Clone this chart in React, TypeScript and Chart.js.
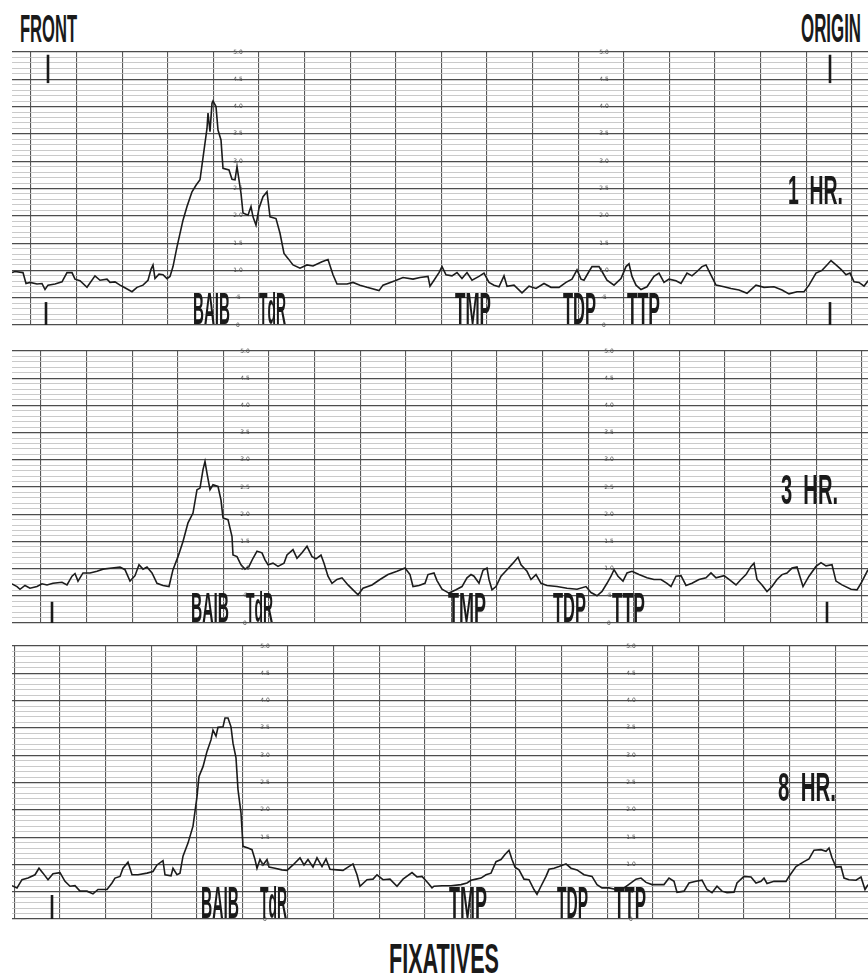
import React, { useEffect, useRef } from 'react';
import { Chart, registerables } from 'chart.js';

Chart.register(...registerables);

const FAMILY = '"Liberation Sans Narrow", "Liberation Sans", Arial, sans-serif';
const CAP = 0.716;
const GRID_STEP = 45.6;
const X_MIN = 0;
const X_MAX = 856;
const PAD = 4;

// ---------- 1 HR ----------
const X_1HR = [0, 3, 11, 14, 18, 25, 30, 33, 36, 43, 50, 55, 60, 63, 68, 75, 83, 88, 95, 98, 103, 108, 112, 120, 125, 131, 136, 139, 141, 143, 147, 151, 155, 158, 161, 165, 171, 175, 180, 184, 188, 192, 195, 196, 198, 200, 201, 204, 206, 209, 211, 217, 220, 223, 225, 227, 229, 231, 236, 239, 241, 244, 247, 251, 255, 258, 264, 268, 272, 276, 281, 288, 295, 301, 310, 316, 321, 325, 335, 341, 348, 355, 367, 371, 383, 391, 401, 408, 416, 418, 422, 427, 430, 434, 440, 445, 450, 455, 460, 467, 472, 477, 482, 487, 492, 495, 502, 510, 517, 524, 532, 539, 547, 554, 560, 565, 569, 572, 577, 580, 587, 590, 595, 602, 609, 614, 617, 620, 624, 629, 635, 642, 647, 652, 657, 664, 669, 675, 680, 685, 690, 694, 698, 704, 712, 719, 727, 735, 744, 752, 762, 770, 777, 785, 792, 797, 804, 810, 815, 819, 824, 829, 834, 838, 842, 847, 852, 856];
const Y_1HR = [0.96, 0.98, 0.96, 0.76, 0.78, 0.75, 0.76, 0.65, 0.73, 0.75, 0.79, 0.96, 0.96, 0.84, 0.81, 0.69, 0.90, 0.82, 0.84, 0.78, 0.79, 0.73, 0.69, 0.61, 0.69, 0.73, 0.82, 1.02, 1.10, 0.85, 0.93, 0.92, 0.85, 0.89, 1.07, 1.43, 1.92, 2.17, 2.44, 2.56, 2.66, 3.20, 3.60, 3.88, 3.54, 4.06, 4.10, 4.00, 3.57, 3.39, 2.87, 2.84, 2.67, 2.66, 2.90, 2.66, 2.41, 2.05, 2.01, 2.17, 1.98, 1.83, 2.14, 2.35, 2.44, 1.98, 1.95, 1.68, 1.31, 1.22, 1.10, 1.04, 1.10, 1.08, 1.16, 1.20, 0.92, 0.75, 0.75, 0.78, 0.73, 0.69, 0.63, 0.73, 0.81, 0.87, 0.84, 0.87, 0.89, 0.71, 0.82, 0.96, 1.07, 0.92, 0.90, 0.96, 0.85, 0.96, 0.82, 0.89, 0.95, 0.78, 0.73, 0.70, 0.90, 0.71, 0.73, 0.59, 0.71, 0.67, 0.76, 0.69, 0.69, 0.78, 0.84, 1.01, 0.84, 0.82, 0.98, 1.07, 1.07, 0.98, 0.82, 0.73, 0.85, 1.07, 1.12, 0.89, 0.73, 0.65, 0.70, 0.89, 0.95, 0.78, 0.84, 0.81, 0.76, 0.95, 0.90, 0.98, 1.07, 1.10, 0.95, 0.73, 0.70, 0.67, 0.64, 0.58, 0.73, 0.69, 0.70, 0.64, 0.57, 0.61, 0.61, 0.73, 0.95, 1.00, 1.10, 1.18, 1.10, 1.02, 0.92, 0.95, 0.79, 0.78, 0.71, 0.81];

// ---------- 3 HR ----------
const X_3HR = [0, 5, 8, 13, 18, 25, 30, 35, 41, 50, 55, 60, 63, 66, 71, 78, 85, 91, 100, 108, 113, 118, 123, 127, 131, 135, 140, 145, 151, 157, 161, 166, 171, 176, 181, 185, 188, 191, 193, 195, 198, 201, 206, 209, 211, 216, 220, 221, 225, 229, 233, 237, 241, 245, 250, 253, 256, 261, 266, 272, 275, 281, 285, 290, 295, 300, 304, 309, 312, 316, 320, 325, 330, 336, 341, 346, 351, 360, 368, 376, 385, 393, 398, 401, 407, 413, 416, 422, 425, 430, 437, 444, 450, 455, 459, 462, 467, 471, 475, 477, 480, 484, 489, 495, 501, 506, 509, 515, 519, 524, 529, 535, 545, 555, 565, 574, 579, 585, 590, 595, 599, 602, 606, 611, 615, 620, 627, 635, 642, 649, 655, 659, 664, 669, 674, 680, 687, 694, 699, 704, 712, 717, 724, 729, 734, 739, 742, 745, 750, 755, 760, 765, 770, 775, 780, 785, 791, 797, 804, 809, 814, 820, 824, 830, 839, 845, 849, 856];
const Y_3HR = [0.72, 0.67, 0.62, 0.69, 0.64, 0.67, 0.72, 0.70, 0.73, 0.75, 0.70, 0.86, 0.91, 0.77, 0.92, 0.92, 0.95, 0.99, 1.01, 1.03, 0.98, 0.77, 0.87, 1.07, 0.99, 1.03, 0.92, 0.73, 0.69, 0.67, 0.98, 1.22, 1.50, 1.84, 2.02, 2.45, 2.48, 2.82, 2.97, 2.75, 2.45, 2.54, 2.51, 2.26, 1.93, 1.90, 1.59, 1.25, 1.22, 1.07, 0.99, 1.04, 1.19, 1.32, 1.29, 1.16, 1.07, 1.10, 1.04, 1.10, 1.25, 1.35, 1.19, 1.29, 1.41, 1.22, 1.18, 1.25, 1.10, 0.86, 0.73, 0.80, 0.83, 0.70, 0.61, 0.52, 0.64, 0.70, 0.80, 0.89, 0.95, 1.01, 0.89, 0.67, 0.69, 0.73, 0.89, 0.92, 0.78, 0.62, 0.55, 0.61, 0.67, 0.83, 0.89, 0.86, 0.73, 0.97, 1.01, 0.80, 0.61, 0.67, 0.86, 0.98, 1.10, 1.21, 1.07, 0.95, 0.80, 0.89, 0.73, 0.69, 0.67, 0.64, 0.62, 0.67, 0.56, 0.50, 0.58, 0.73, 0.86, 0.98, 0.86, 0.77, 0.92, 0.95, 0.89, 0.83, 0.80, 0.80, 0.73, 0.67, 0.86, 0.87, 0.69, 0.73, 0.80, 0.83, 0.92, 0.83, 0.87, 0.80, 0.70, 0.80, 0.89, 1.04, 1.10, 0.80, 0.70, 0.58, 0.67, 0.80, 0.89, 0.92, 1.01, 1.03, 0.67, 0.86, 1.04, 1.11, 1.05, 1.07, 0.77, 0.70, 0.62, 0.61, 0.73, 0.98];

// ---------- 8 HR ----------
const X_8HR = [0, 5, 10, 16, 23, 27, 31, 36, 41, 48, 53, 58, 63, 68, 75, 81, 86, 95, 100, 103, 108, 111, 116, 120, 126, 135, 141, 145, 151, 153, 159, 161, 165, 168, 171, 176, 181, 185, 187, 191, 195, 199, 201, 204, 206, 211, 213, 216, 219, 221, 224, 226, 229, 231, 236, 240, 243, 245, 248, 251, 255, 257, 263, 270, 275, 281, 288, 292, 296, 301, 305, 310, 314, 318, 325, 331, 336, 341, 345, 348, 355, 361, 365, 371, 378, 385, 391, 400, 405, 410, 416, 420, 422, 430, 439, 449, 455, 459, 464, 469, 474, 479, 484, 489, 493, 497, 500, 503, 507, 512, 517, 522, 525, 529, 534, 537, 542, 547, 554, 559, 565, 572, 580, 585, 590, 597, 604, 612, 619, 624, 629, 634, 640, 645, 652, 657, 662, 665, 672, 677, 684, 690, 695, 700, 705, 710, 715, 722, 725, 732, 739, 744, 749, 752, 755, 762, 774, 777, 784, 792, 797, 802, 809, 814, 817, 820, 824, 829, 832, 837, 844, 849, 853, 856];
const Y_8HR = [0.61, 0.57, 0.72, 0.75, 0.81, 0.93, 0.84, 0.72, 0.83, 0.85, 0.69, 0.60, 0.61, 0.51, 0.51, 0.46, 0.54, 0.54, 0.66, 0.75, 0.78, 0.93, 1.04, 0.81, 0.81, 0.84, 0.87, 0.99, 1.07, 0.81, 0.79, 0.93, 0.81, 0.84, 1.15, 1.39, 1.70, 2.24, 2.61, 2.79, 3.07, 3.28, 3.46, 3.35, 3.51, 3.52, 3.68, 3.68, 3.52, 3.22, 2.95, 2.37, 1.94, 1.33, 1.30, 1.27, 1.09, 0.93, 1.09, 0.99, 1.09, 0.95, 0.93, 0.90, 0.89, 0.99, 1.12, 0.99, 1.09, 0.95, 1.12, 0.96, 1.10, 0.91, 0.90, 0.89, 0.95, 1.01, 0.81, 0.60, 0.72, 0.73, 0.81, 0.72, 0.73, 0.60, 0.73, 0.85, 0.77, 0.78, 0.66, 0.57, 0.60, 0.61, 0.61, 0.63, 0.66, 0.71, 0.73, 0.75, 0.81, 0.84, 1.05, 1.09, 1.18, 1.26, 1.09, 0.95, 0.90, 0.73, 0.72, 0.54, 0.45, 0.60, 0.78, 0.91, 0.93, 0.96, 1.01, 0.93, 0.90, 0.81, 0.78, 0.63, 0.57, 0.57, 0.54, 0.57, 0.66, 0.73, 0.75, 0.67, 0.63, 0.63, 0.63, 0.75, 0.69, 0.49, 0.51, 0.66, 0.69, 0.71, 0.54, 0.48, 0.60, 0.51, 0.48, 0.49, 0.66, 0.78, 0.77, 0.66, 0.69, 0.75, 0.65, 0.69, 0.69, 0.78, 0.96, 1.05, 1.10, 1.26, 1.27, 1.24, 1.30, 1.12, 0.95, 0.96, 0.75, 0.72, 0.71, 0.77, 0.54, 0.63];

// ---------- annotations (in data units) ----------
const PEAK_NAMES = ['BAIB', 'TdR', 'TMP', 'TDP', 'TTP'];
const PEAK_X_1HR = [181, 247, 443, 551, 615];
const PEAK_W_1HR = [37, 27, 36, 33, 33];
const PEAK_X_3HR = [179, 234, 436, 541, 600];
const PEAK_W_3HR = [38, 27, 38, 33, 33];
const PEAK_X_8HR = [189, 248, 437, 545, 602];
const PEAK_W_8HR = [38, 27, 38, 31, 32];
const PEAK_Y = [0.01, 0.58];

const SCALE_VALUES = [0, 0.5, 1, 1.5, 2, 2.5, 3, 3.5, 4, 4.5, 5];
const SCALE_COLS_1HR = [226, 592];
const SCALE_COLS_3HR = [233, 597];
const SCALE_COLS_8HR = [253, 619];

const GRID_OFFSET_1HR = 19;
const GRID_OFFSET_3HR = 29;
const GRID_OFFSET_8HR = 2.4;

const HR_X_1HR = [776, 831];
const HR_Y_1HR = [2.22, 2.75];
const HR_X_3HR = [769, 826];
const HR_Y_3HR = [2.19, 2.76];
const HR_X_8HR = [766, 824];
const HR_Y_8HR = [2.16, 2.69];

const MARKS_1HR = [[36, 4.43, 4.95], [34, 0, 0.42], [818, 4.43, 4.95], [818, 0, 0.42]];
const MARKS_3HR = [[40, 0, 0.39], [815, 0, 0.39]];
const MARKS_8HR = [[40, 0, 0.44]];

let measureCtx: CanvasRenderingContext2D | null = null;
function measure(text: string, font: string): number {
  if (!measureCtx) measureCtx = document.createElement('canvas').getContext('2d');
  measureCtx!.font = font;
  return measureCtx!.measureText(text).width;
}

function drawCondensed(ctx: CanvasRenderingContext2D, text: string, left: number, baseline: number, capH: number, width: number) {
  const fs = capH / CAP;
  ctx.save();
  ctx.font = `bold ${fs}px ${FAMILY}`;
  const w = ctx.measureText(text).width;
  ctx.translate(left, baseline);
  ctx.scale(width / w, 1);
  ctx.fillStyle = '#1a1a1a';
  ctx.textBaseline = 'alphabetic';
  ctx.textAlign = 'left';
  ctx.fillText(text, 0, 0);
  ctx.restore();
}

type PanelProps = {
  top: number;
  height: number;
  xs: number[];
  ys: number[];
  gridOffset: number;
  scaleCols: number[];
  peakX: number[];
  peakW: number[];
  hrText: string;
  hrX: number[];
  hrY: number[];
  marks: number[][];
};

function Panel(p: PanelProps) {
  const ref = useRef<HTMLCanvasElement>(null);
  useEffect(() => {
    const canvas = ref.current!;
    const data = p.xs.map((x, i) => ({ x, y: p.ys[i] }));
    const annot = {
      id: 'annot',
      afterDatasetsDraw(chart: any) {
        const ctx: CanvasRenderingContext2D = chart.ctx;
        const xs = chart.scales.x;
        const ys = chart.scales.y;
        // scale numbers
        ctx.save();
        ctx.font = '6px "DejaVu Sans", sans-serif';
        ctx.fillStyle = '#4a4a4a';
        ctx.textAlign = 'center';
        ctx.textBaseline = 'middle';
        for (const c of p.scaleCols) {
          const px = xs.getPixelForValue(c);
          for (const v of SCALE_VALUES) {
            const lbl = v === 0 ? '0' : v === 0.5 ? '\u00b75' : v.toFixed(1);
            ctx.fillText(lbl, px, ys.getPixelForValue(v));
          }
        }
        ctx.restore();
        // marks
        ctx.save();
        ctx.strokeStyle = '#1a1a1a';
        ctx.lineWidth = 2.6;
        for (const m of p.marks) {
          const px = xs.getPixelForValue(m[0]);
          ctx.beginPath();
          ctx.moveTo(px, ys.getPixelForValue(m[1]));
          ctx.lineTo(px, ys.getPixelForValue(m[2]));
          ctx.stroke();
        }
        ctx.restore();
        // peak labels
        PEAK_NAMES.forEach((name, i) => {
          const l = xs.getPixelForValue(p.peakX[i]);
          const r = xs.getPixelForValue(p.peakX[i] + p.peakW[i]);
          const b = ys.getPixelForValue(PEAK_Y[0]);
          const t = ys.getPixelForValue(PEAK_Y[1]);
          drawCondensed(ctx, name, l, b, b - t, r - l);
        });
        // hour label
        {
          const l = xs.getPixelForValue(p.hrX[0]);
          const r = xs.getPixelForValue(p.hrX[1]);
          const b = ys.getPixelForValue(p.hrY[0]);
          const t = ys.getPixelForValue(p.hrY[1]);
          drawCondensed(ctx, p.hrText, l, b, b - t, r - l);
        }
      },
    };
    const chart = new Chart(canvas, {
      type: 'line',
      data: {
        datasets: [
          {
            data,
            borderColor: '#1c1c1c',
            borderWidth: 1.6,
            pointRadius: 0,
            tension: 0,
            fill: false,
          },
        ],
      },
      options: {
        animation: false,
        responsive: false,
        devicePixelRatio: 1,
        events: [],
        layout: { padding: PAD },
        plugins: { legend: { display: false }, tooltip: { enabled: false } },
        scales: {
          x: {
            type: 'linear',
            min: X_MIN,
            max: X_MAX,
            border: { display: false },
            ticks: { display: false, autoSkip: false },
            grid: { drawTicks: false, color: '#575757', lineWidth: 1.1 },
            afterBuildTicks: (s: any) => {
              const t: any[] = [];
              for (let v = p.gridOffset; v <= X_MAX; v += GRID_STEP) t.push({ value: v });
              s.ticks = t;
            },
          },
          y: {
            type: 'linear',
            min: 0,
            max: 5,
            border: { display: false },
            ticks: { display: false, autoSkip: false },
            grid: {
              drawTicks: false,
              color: (c: any) => (Math.round((c.tick?.value ?? 0) * 10) % 5 === 0 ? '#4d4d4d' : '#bcbcbc'),
              lineWidth: (c: any) => (Math.round((c.tick?.value ?? 0) * 10) % 5 === 0 ? 1.2 : 0.8),
            },
            afterBuildTicks: (s: any) => {
              s.ticks = Array.from({ length: 51 }, (_, i) => ({ value: i / 10 }));
            },
          },
        },
      } as any,
      plugins: [annot as any],
    });
    return () => chart.destroy();
  }, []);
  const h = p.height + PAD * 2;
  return (
    <canvas
      ref={ref}
      width={864}
      height={h}
      style={{ position: 'absolute', left: 8, top: p.top - PAD, width: 864, height: h }}
    />
  );
}

function Title({ text, left, capTop, capH, width }: { text: string; left: number; capTop: number; capH: number; width: number }) {
  const fs = capH / CAP;
  const natural = measure(text, `bold ${fs}px ${FAMILY}`);
  const sx = width / natural;
  return (
    <div
      style={{
        position: 'absolute',
        left,
        top: capTop - 0.1305 * fs,
        fontFamily: FAMILY,
        fontWeight: 'bold',
        fontSize: fs,
        lineHeight: `${fs}px`,
        whiteSpace: 'nowrap',
        color: '#1a1a1a',
        transform: `scaleX(${sx})`,
        transformOrigin: '0 0',
      }}
    >
      {text}
    </div>
  );
}

export default function App() {
  return (
    <div style={{ position: 'absolute', left: 0, top: 0, width: 868, height: 979, overflow: 'hidden', background: '#fff' }}>
      <Title text="FRONT" left={20} capTop={14} capH={28} width={57} />
      <Title text="ORIGIN" left={801} capTop={13} capH={29} width={60} />
      <Panel top={52} height={273} xs={X_1HR} ys={Y_1HR} gridOffset={GRID_OFFSET_1HR} scaleCols={SCALE_COLS_1HR} peakX={PEAK_X_1HR} peakW={PEAK_W_1HR} hrText="1  HR." hrX={HR_X_1HR} hrY={HR_Y_1HR} marks={MARKS_1HR} />
      <Panel top={351} height={272} xs={X_3HR} ys={Y_3HR} gridOffset={GRID_OFFSET_3HR} scaleCols={SCALE_COLS_3HR} peakX={PEAK_X_3HR} peakW={PEAK_W_3HR} hrText="3  HR." hrX={HR_X_3HR} hrY={HR_Y_3HR} marks={MARKS_3HR} />
      <Panel top={646} height={273} xs={X_8HR} ys={Y_8HR} gridOffset={GRID_OFFSET_8HR} scaleCols={SCALE_COLS_8HR} peakX={PEAK_X_8HR} peakW={PEAK_W_8HR} hrText="8  HR." hrX={HR_X_8HR} hrY={HR_Y_8HR} marks={MARKS_8HR} />
      <Title text="FIXATIVES" left={389} capTop={943} capH={30} width={110} />
    </div>
  );
}
